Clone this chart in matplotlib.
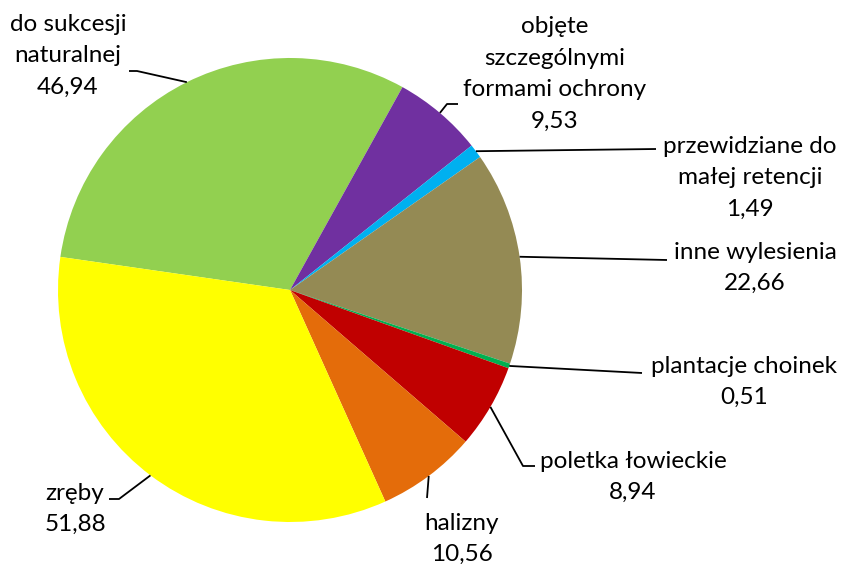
import numpy as np
import matplotlib
matplotlib.use("Agg")
import matplotlib.pyplot as plt

plt.rcParams['font.family'] = ['Lato', 'DejaVu Sans']

categories = [
    "do sukcesji\nnaturalnej",
    "objęte\nszczególnymi\nformami ochrony",
    "przewidziane do\nmałej retencji",
    "inne wylesienia",
    "plantacje choinek",
    "poletka łowieckie",
    "halizny",
    "zręby",
]
values = [46.94, 9.53, 1.49, 22.66, 0.51, 8.94, 10.56, 51.88]
colors = ["#92D050", "#7030A0", "#00B0F0", "#948A54",
          "#00B050", "#C00000", "#E46C0A", "#FFFF00"]

W, H = 842, 564
fig = plt.figure(figsize=(W / 100, H / 100), dpi=100)
ax = fig.add_axes([0, 0, 1, 1])

cx, cy, r = 290, H - 290, 232
wedges, _ = ax.pie(values, colors=colors, startangle=171.8, counterclock=False,
                   center=(cx, cy), radius=r, frame=True,
                   wedgeprops=dict(linewidth=0))
ax.set_xlim(0, W)
ax.set_ylim(0, H)
ax.set_aspect('equal')
ax.axis('off')

# label block centre (pixels from top-left) and leader-line elbow points
label_pos = [(68, 56), (555, 74), (750, 178), (755, 268),
             (744, 382), (633, 477), (462, 539), (75, 509)]
leader_path = [
    [(137, 71), (129, 71)],
    [(447, 104), (458, 104)],
    [(656, 149)],
    [(667, 260)],
    [(642, 373)],
    [(523, 466), (535, 466)],
    [(427, 498)],
    [(119, 499), (109, 499)],
]

def fmt(v):
    return f"{v:.2f}".replace(".", ",")

for w, cat, v, (lx, ly), path in zip(wedges, categories, values, label_pos, leader_path):
    mid = np.deg2rad((w.theta1 + w.theta2) / 2)
    x0 = cx + r * np.cos(mid)
    y0 = cy + r * np.sin(mid)
    xs = [x0] + [p[0] for p in path]
    ys = [y0] + [H - p[1] for p in path]
    ax.plot(xs, ys, color='black', lw=1.3, solid_capstyle='butt')
    ax.text(lx, H - ly, f"{cat}\n{fmt(v)}", ha='center', va='center',
            fontsize=17.5, linespacing=1.62, color='black')

fig.savefig("out.png", dpi=100)
